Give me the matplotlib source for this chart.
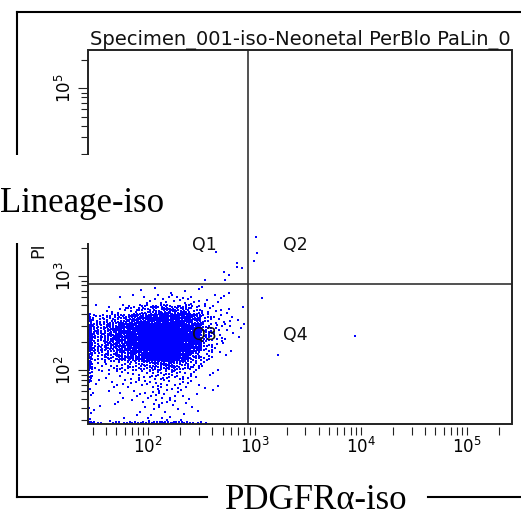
import matplotlib
matplotlib.use('Agg')
import matplotlib.pyplot as plt
import numpy as np
from matplotlib.lines import Line2D
from matplotlib.patches import Rectangle
from matplotlib.ticker import LogLocator, NullFormatter

plt.rcParams['font.family'] = 'DejaVu Sans'

title = 'Specimen_001-iso-Neonetal PerBlo PaLin_0'
x_name = 'PDGFRα-iso'
y_name = 'Lineage-iso'
y_param = 'PI'
quad_names = ['Q1', 'Q2', 'Q3', 'Q4']
tick_vals = [1e2, 1e3, 1e4, 1e5]
x_tick_labels = ['$10^2$', '$10^3$', '$10^4$', '$10^5$']
y_tick_labels = ['$10^2$', '$10^3$', '', '$10^5$']  # 10^4 sits under the name box

# quadrant gate (channel values)
gate_x = 867
gate_y = 822

# main Q3 population: events counted per log10 bin (rows bottom -> top)
x_edges = [1.436, 1.47, 1.6, 1.7, 1.8, 1.9, 2.0, 2.1, 2.2, 2.3, 2.4, 2.5, 2.6, 2.7, 2.8, 2.9, 2.94]
y_edges = [1.436, 1.452, 1.6, 1.7, 1.8, 1.9, 2.0, 2.1, 2.2, 2.3, 2.4, 2.5, 2.6, 2.7, 2.8, 2.9]
counts = np.array([
    [4, 3, 2, 3, 4, 5, 10, 10, 9, 6, 3, 1, 0, 0, 0, 0],
    [2, 1, 1, 1, 1, 2, 3, 3, 2, 2, 1, 0, 0, 0, 0, 0],
    [1, 1, 1, 1, 1, 2, 3, 3, 3, 2, 1, 0, 0, 0, 0, 0],
    [2, 1, 1, 2, 2, 3, 4, 4, 3, 2, 1, 0, 1, 0, 0, 0],
    [3, 2, 2, 3, 3, 4, 5, 5, 4, 3, 2, 1, 1, 0, 0, 0],
    [6, 2, 2, 3, 4, 5, 8, 9, 8, 5, 3, 1, 1, 0, 0, 0],
    [12, 5, 5, 8, 11, 14, 19, 22, 19, 14, 8, 2, 1, 0, 0, 0],
    [14, 11, 14, 22, 28, 36, 48, 52, 48, 34, 16, 6, 2, 1, 0, 0],
    [20, 20, 22, 32, 44, 60, 70, 72, 66, 52, 36, 10, 3, 1, 0, 0],
    [22, 22, 25, 36, 48, 64, 72, 76, 74, 60, 42, 14, 5, 2, 1, 0],
    [20, 22, 25, 32, 44, 56, 66, 70, 68, 58, 38, 13, 5, 3, 2, 0],
    [10, 13, 14, 20, 27, 32, 40, 46, 46, 40, 24, 9, 4, 3, 1, 0],
    [0, 1, 3, 5, 8, 13, 18, 20, 20, 18, 10, 5, 3, 2, 1, 0],
    [0, 0, 0, 1, 1, 2, 3, 4, 4, 4, 3, 2, 2, 1, 0, 0],
    [0, 0, 0, 0, 0, 1, 1, 0, 1, 1, 1, 1, 1, 1, 0, 0],
])

# single events outside the main cloud (log10 values)
single_lx = [2.637, 2.534, 2.715, 2.722, 2.757, 2.832, 2.838, 2.879,
             3.013, 3.026, 2.995, 3.073, 3.945, 3.223]
single_ly = [3.257, 2.960, 3.046, 2.960, 3.018, 3.145, 3.099, 3.092,
             3.416, 3.251, 3.162, 2.765, 2.365, 2.164]

x_lim = (10 ** 1.433, 10 ** 5.422)
y_lim = (10 ** 1.43, 10 ** 5.407)


def spread_bins(counts, x_edges, y_edges):
    # lay each bin's events out evenly inside the bin
    a1, a2 = 0.7548776662, 0.5698402910
    lx, ly = [], []
    nrow, ncol = counts.shape
    for i in range(nrow):
        for j in range(ncol):
            n = counts[i, j]
            if n == 0:
                continue
            k = np.arange(n) + 0.5 + 0.37 * (i * ncol + j)
            u = (k * a1) % 1
            v = (k * a2) % 1
            lx.extend(x_edges[j] + u * (x_edges[j + 1] - x_edges[j]))
            ly.extend(y_edges[i] + v * (y_edges[i + 1] - y_edges[i]))
    return np.array(lx), np.array(ly)


W, H = 521, 515
fig = plt.figure(figsize=(W / 100, H / 100), dpi=100)


def fx(px):
    return px / W


def fy(py):
    return 1 - py / H


ax = fig.add_axes([fx(88), fy(424), 424 / W, 374 / H])

lx, ly = spread_bins(counts, x_edges, y_edges)
dot_kw = dict(s=3.6, marker='s', color='#0000ff', linewidths=0, antialiased=False)
ax.scatter(10 ** lx, 10 ** ly, **dot_kw)
ax.scatter(10 ** np.array(single_lx), 10 ** np.array(single_ly), **dot_kw)

ax.set_xscale('log')
ax.set_yscale('log')
ax.set_xlim(*x_lim)
ax.set_ylim(*y_lim)

ax.axvline(gate_x, color='#333333', lw=1.2)
ax.axhline(gate_y, color='#333333', lw=1.2)

for sp in ax.spines.values():
    sp.set_visible(False)
ax.spines['bottom'].set_position(('outward', 2.2))
ax.add_patch(Rectangle((0, 0), 1, 1, transform=ax.transAxes, fill=False,
                       lw=1.4, edgecolor='#222222', clip_on=False, zorder=3))

ax.set_xticks(tick_vals, x_tick_labels)
ax.set_yticks(tick_vals, y_tick_labels)
ax.xaxis.set_minor_locator(LogLocator(base=10, subs=np.arange(2, 10), numticks=20))
ax.yaxis.set_minor_locator(LogLocator(base=10, subs=np.arange(2, 10), numticks=20))
ax.xaxis.set_minor_formatter(NullFormatter())
ax.yaxis.set_minor_formatter(NullFormatter())
ax.tick_params(axis='x', which='both', direction='out', length=5.8, width=0.8,
               color='#222222', labelsize=12, pad=1.0)
ax.tick_params(axis='y', which='major', direction='out', length=7.2, width=0.8,
               color='#222222', labelsize=12, pad=2.5, labelrotation=90)
ax.tick_params(axis='y', which='minor', direction='out', length=4.7, width=0.8,
               color='#222222')
for lab in ax.get_yticklabels():
    lab.set_va('center')

q_pos = [(0.2446, 0.4652), (0.4606, 0.4652), (0.2446, 0.2246), (0.4606, 0.2246)]
for name, (qx, qy) in zip(quad_names, q_pos):
    ax.text(qx, qy, name, transform=ax.transAxes, fontsize=12.5, va='baseline',
            color='#111111')

ax.text(0.5, (424 - 45) / 374, title, transform=ax.transAxes, ha='center',
        va='baseline', fontsize=14, color='#111111')

# outer frame of the composite figure
frame_kw = dict(color='black', lw=1.5, transform=fig.transFigure)
fig.add_artist(Line2D([fx(16.7), fx(521)], [fy(11.7), fy(11.7)], **frame_kw))
fig.add_artist(Line2D([fx(16.7), fx(16.7)], [fy(11.7), fy(497)], **frame_kw))
fig.add_artist(Line2D([fx(16.7), fx(207)], [fy(497), fy(497)], **frame_kw))
fig.add_artist(Line2D([fx(428), fx(521)], [fy(497), fy(497)], **frame_kw))

# white box behind the y channel name
fig.add_artist(Rectangle((fx(0), fy(243)), fx(185), (243 - 155) / H,
                         transform=fig.transFigure, facecolor='white',
                         edgecolor='none', zorder=2.5))

fig.text(fx(0), fy(211.7), y_name, family='Liberation Serif', fontsize=25,
         va='baseline', ha='left', zorder=4)
fig.text(fx(316.5), fy(509), x_name, family='Liberation Serif', fontsize=25,
         va='baseline', ha='center', zorder=4)
fig.text(fx(38.5), fy(250), y_param, rotation=90, fontsize=12.5, ha='center',
         va='center', zorder=4, color='#111111')

fig.savefig('out.png', dpi=100)
